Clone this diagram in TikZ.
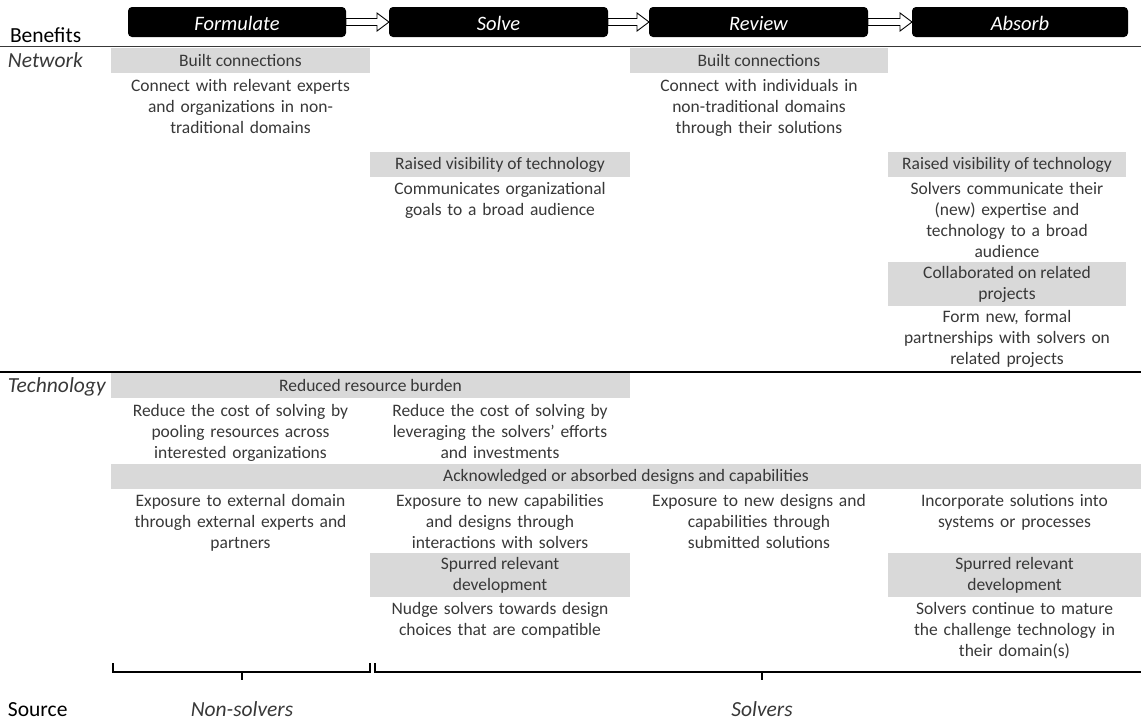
\documentclass[tikz,border=0pt]{standalone}
\usepackage{fontspec}
\setmainfont{Carlito}
\usetikzlibrary{calc}
\definecolor{barfill}{HTML}{D9D9D9}
\definecolor{ink}{HTML}{383838}
\newcommand{\bodyfont}{\fontsize{17.5}{21}\selectfont}
\newcommand{\labelfont}{\fontsize{21.5}{26}\selectfont}
% hollow block arrow from one phase box to the next
\newcommand{\phasearrow}[2]{%
  \draw[hollow] ($(#1.east)+(0,-3.5)$) -- ($(#2.west)+(-12,-3.5)$)
    -- ($(#2.west)+(-12,-9)$) -- (#2.west) -- ($(#2.west)+(-12,9)$)
    -- ($(#2.west)+(-12,3.5)$) -- ($(#1.east)+(0,3.5)$) -- cycle;}
\begin{document}
\begin{tikzpicture}[x=1pt, y=-1pt,
  every node/.style={inner sep=0pt, outer sep=0pt},
  txt/.style={font=\bodyfont, text=ink, text width=250pt, align=center, anchor=base},
  bar/.style={fill=barfill, font=\bodyfont, text=ink, align=center, minimum height=25pt},
  bartwo/.style={bar, minimum height=44pt},
  phase/.style={fill=black, rounded corners=4pt, text=white,
    font=\fontsize{20.5}{24}\selectfont\itshape, minimum height=30pt,
    text height=18pt, text depth=2pt},
  hollow/.style={draw=black, fill=white, line width=0.9pt, line join=miter},
  rowname/.style={font=\labelfont\itshape, text=ink, anchor=base west},
  head/.style={font=\labelfont, text=black, anchor=base west},
  group/.style={font=\labelfont\itshape, text=ink, anchor=base},
  brace/.style={line width=2.2pt, black}
]
\useasboundingbox (0,0) rectangle (1141,721);

% phases
\node[phase, minimum width=218pt] (fo) at (237,22) {Formulate};
\node[phase, minimum width=219pt] (so) at (498.5,22) {Solve};
\node[phase, minimum width=219pt] (re) at (758.5,22) {Review};
\node[phase, minimum width=216pt] (ab) at (1020,22) {Absorb};
\phasearrow{fo}{so}
\phasearrow{so}{re}
\phasearrow{re}{ab}

% rules
\draw[line width=1.2pt, ink] (0,46.5) -- (1141,46.5);
\draw[line width=2pt, black] (0,372) -- (1141,372);

% row labels
\node[head] (benefits) at (10,42.5) {Benefits};
\node[rowname] (network) at (8,67) {Network};
\node[rowname] (technology) at (8,392) {Technology};
\node[head] (source) at (8,716) {Source};

% network benefits
\node[bar, minimum width=259pt] (nb1) at (240.5,60.5) {Built connections};
\node[txt] (nt1) at (240.5,91) {Connect with relevant experts\\and organizations in non-\\traditional domains};
\node[bar, minimum width=258pt] (nb3) at (759,60.5) {Built connections};
\node[txt] (nt3) at (759,91) {Connect with individuals in\\non-traditional domains\\through their solutions};
\node[bar, minimum width=260pt] (nb2) at (500,164.5) {Raised visibility of technology};
\node[txt] (nt2) at (500,194) {Communicates organizational\\goals to a broad audience};
\node[bar, minimum width=238pt] (nb4) at (1007,164.5) {Raised visibility of technology};
\node[txt] (nt4) at (1007,194) {Solvers communicate their\\(new) expertise and\\technology to a broad\\audience};
\node[bartwo, minimum width=238pt] (nc4) at (1007,284) {Collaborated on related\\projects};
\node[txt] (nf4) at (1007,322.5) {Form new, formal\\partnerships with solvers on\\related projects};

% technology benefits
\node[bar, minimum width=519pt] (tb1) at (370.5,385.5) {Reduced resource burden};
\node[txt] (tt1) at (240.5,416) {Reduce the cost of solving by\\pooling resources across\\interested organizations};
\node[txt] (tt2) at (500,416) {Reduce the cost of solving by\\leveraging the solvers’ efforts\\and investments};
\node[bar, minimum width=1030pt] (ack) at (626,476.5) {Acknowledged or absorbed designs and capabilities};
\node[txt] (te1) at (240.5,506) {Exposure to external domain\\through external experts and\\partners};
\node[txt] (te2) at (500,506) {Exposure to new capabilities\\and designs through\\interactions with solvers};
\node[txt] (te3) at (759,506) {Exposure to new designs and\\capabilities through\\submitted solutions};
\node[txt] (te4) at (1014.5,506) {Incorporate solutions into\\systems or processes};
\node[bartwo, minimum width=260pt] (sp2) at (500,575) {Spurred relevant\\development};
\node[bartwo, minimum width=253pt] (sp4) at (1014.5,575) {Spurred relevant\\development};
\node[txt] (tn2) at (500,614) {Nudge solvers towards design\\choices that are compatible};
\node[txt] (tn4) at (1014.5,614) {Solvers continue to mature\\the challenge technology in\\their domain(s)};

% source brackets
\node[group] (nons) at (242,716) {Non-solvers};
\node[group] (solv) at (762,716) {Solvers};
\draw[brace] (113,663) -- (113,672) -- (370,672) -- (370,663);
\draw[brace] (242,672) -- (242,680);
\draw[brace] (375,663) -- (375,672) -- (1141,672);
\draw[brace] (762,672) -- (762,680);
\end{tikzpicture}
\end{document}
